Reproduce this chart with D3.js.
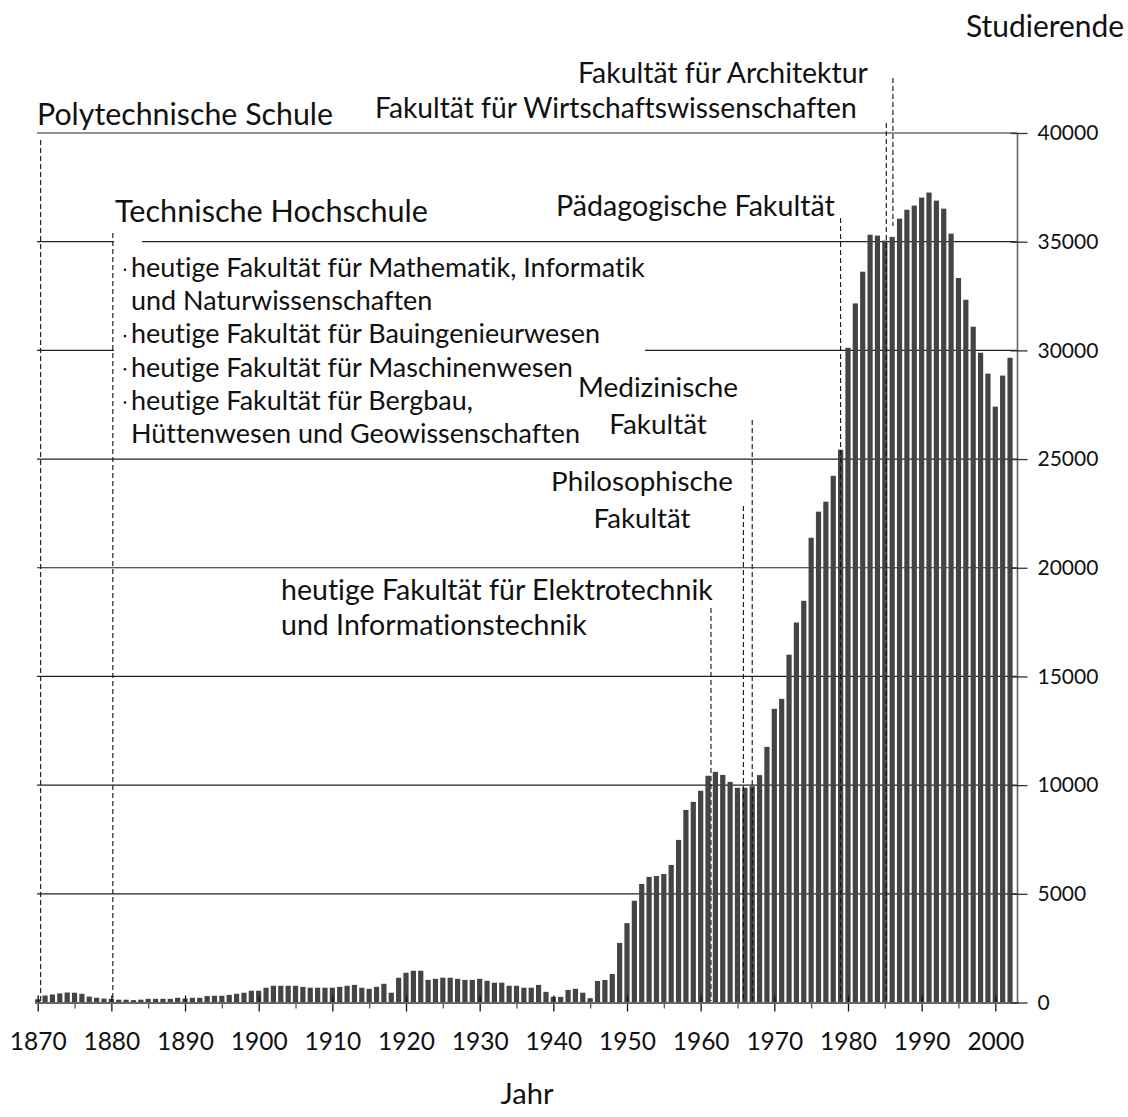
<!DOCTYPE html>
<html>
<head>
<meta charset="utf-8">
<script src="https://cdn.jsdelivr.net/npm/d3@7"></script>
<style>
	body { margin: 0; background: #fff; }
	svg text { font-family: Lato, "Open Sans", sans-serif; fill: #111; font-variant-ligatures: none; font-feature-settings: "liga" 0, "clig" 0; }
</style>
</head>
<body>
<div id="chart"></div>
<script>
// Studierende je Jahr, 1870 - 2002
const firstYear = 1870
const students = [
	150, 320, 370, 420, 460, 450, 400, 270, 220, 180,           // 1870
	170, 130, 130, 110, 130, 170, 170, 170, 170, 215,           // 1880
	180, 215, 215, 300, 310, 310, 350, 400, 450, 540,           // 1890
	540, 680, 770, 770, 770, 770, 720, 680, 680, 680,           // 1900
	680, 720, 770, 810, 680, 630, 720, 860, 450, 1140,          // 1910
	1370, 1460, 1460, 1040, 1090, 1140, 1140, 1090, 1040, 1040, // 1920
	1090, 1000, 910, 910, 770, 770, 680, 680, 810, 490,         // 1930
	260, 260, 580, 630, 450, 200, 990, 1035, 1310, 2740,        // 1940
	3650, 4680, 5450, 5780, 5820, 5910, 6330, 7480, 8860, 9230, // 1950
	9740, 10430, 10610, 10470, 10150, 9880, 9880, 9950, 10460, 11760,   // 1960
	13510, 13970, 16000, 17480, 18480, 21380, 22580, 23040, 24230, 25430, // 1970
	30120, 32160, 33620, 35320, 35280, 35050, 35220, 36060, 36470, 36660, // 1980
	37030, 37260, 36890, 36520, 35370, 33330, 32330, 31090, 29890, 28930, // 1990
	27410, 28840, 29660                                          // 2000
]
const years = d3.range(firstYear, firstYear + students.length)

const xTicksMajor = d3.range(1870, 2001, 10)
const xTicksMinor = d3.range(1875, 2001, 10)
const yTicks = d3.range(0, 40001, 5000)

// founding dates of the faculties, dashed markers
const events = [
	{ year: 1870.4, top: 140, name: "Polytechnische Schule" },
	{ year: 1880.2, top: 233, name: "Technische Hochschule" },
	{ year: 1961.4, top: 608, name: "Elektrotechnik" },
	{ year: 1965.8, top: 506, name: "Philosophische Fakultät" },
	{ year: 1967.0, top: 420, name: "Medizinische Fakultät" },
	{ year: 1979.0, top: 218, name: "Pädagogische Fakultät" },
	{ year: 1985.2, top: 123, name: "Wirtschaftswissenschaften" },
	{ year: 1986.1, top: 78, bottom: 226, name: "Architektur" }
]

const listLines = [
	{ text: "heutige Fakultät für Mathematik, Informatik", bullet: true },
	{ text: "und Naturwissenschaften", bullet: false },
	{ text: "heutige Fakultät für Bauingenieurwesen", bullet: true },
	{ text: "heutige Fakultät für Maschinenwesen", bullet: true },
	{ text: "heutige Fakultät für Bergbau,", bullet: true },
	{ text: "Hüttenwesen und Geowissenschaften", bullet: false }
]

const width = 1128, height = 1117

const svg = d3.select("#chart").append("svg")
	.attr("width", width)
	.attr("height", height)

const x = d3.scaleLinear().domain([1870, 2000]).range([37.7, 995.3])
const y = d3.scaleLinear().domain([0, 40000]).range([1002.5, 133])
const plotLeft = 37, axisX = 1017.5

// gridlines (behind everything)
svg.append("g").selectAll("line")
	.data(yTicks.filter(d => d > 0))
	.join("line")
	.attr("x1", plotLeft).attr("x2", axisX)
	.attr("y1", d => y(d)).attr("y2", d => y(d))
	.attr("stroke", "#222").attr("stroke-width", 1.2)

// white boxes behind the text block cut the gridlines
svg.append("rect").attr("x", 114).attr("y", 246).attr("width", 531).attr("height", 204).attr("fill", "#fff")
svg.append("rect").attr("x", 114).attr("y", y(35000) - 3).attr("width", 28).attr("height", 6).attr("fill", "#fff")

// bars
const barW = 5.2
svg.append("g").selectAll("rect")
	.data(years.map((yr, i) => ({ year: yr, value: students[i] })))
	.join("rect")
	.attr("x", d => x(d.year) - barW / 2)
	.attr("width", barW)
	.attr("y", d => y(d.value))
	.attr("height", d => y(0) - y(d.value))
	.attr("fill", "#444")

// bottom axis
const xAxisMinor = svg.append("g")
	.attr("transform", `translate(0,${y(0)})`)
	.call(d3.axisBottom(x).tickValues(xTicksMinor).tickSize(6).tickFormat(""))
xAxisMinor.select(".domain").remove()
xAxisMinor.selectAll(".tick line").attr("stroke", "#555").attr("stroke-width", 1.3)

const xAxis = svg.append("g")
	.attr("transform", `translate(0,${y(0)})`)
	.call(d3.axisBottom(x).tickValues(xTicksMajor).tickSize(9).tickPadding(21).tickFormat(d3.format("d")))
xAxis.select(".domain").remove()
xAxis.selectAll(".tick line").attr("y1", -7).attr("stroke", "#111").attr("stroke-width", 1.3)
xAxis.selectAll(".tick text").attr("font-size", 24.5).attr("fill", "#111")

svg.append("line")
	.attr("x1", 35).attr("x2", axisX + 1)
	.attr("y1", y(0) + 0.5).attr("y2", y(0) + 0.5)
	.attr("stroke", "#666").attr("stroke-width", 2)

// right axis
const yAxis = svg.append("g")
	.attr("transform", `translate(${axisX},0)`)
	.call(d3.axisRight(y).tickValues(yTicks).tickSize(10).tickPadding(10).tickFormat(d3.format("d")))
yAxis.select(".domain").attr("stroke", "#666").attr("stroke-width", 1.6)
	.attr("d", `M0,${y(40000)}V${y(0) + 1}`)
yAxis.selectAll(".tick line").attr("x1", -7).attr("stroke", "#333").attr("stroke-width", 1.3)
yAxis.selectAll(".tick text").attr("font-size", 21).attr("fill", "#111")

// dashed marker lines
svg.append("g").selectAll("line")
	.data(events)
	.join("line")
	.attr("x1", d => x(d.year)).attr("x2", d => x(d.year))
	.attr("y1", d => d.top).attr("y2", d => d.bottom || 1001)
	.attr("stroke", "#111").attr("stroke-width", 1.1)
	.attr("stroke-dasharray", "5,3")

// scale a label so that its first line has the measured width
function label(lines, px, py, w, anchor, lh) {
	const t = svg.append("text")
		.attr("text-anchor", anchor || "start")
		.attr("font-size", 24)
	lines.forEach((s, i) => {
		t.append("tspan").attr("x", px).attr("y", py + i * (lh || 0)).text(s)
	})
	const len = t.select("tspan").node().getComputedTextLength()
	t.attr("font-size", 24 * w / len)
	return t
}

label(["Studierende"], 1124, 37, 158, "end")
label(["Polytechnische Schule"], 37, 125, 296)
label(["Technische Hochschule"], 115, 222, 313)
label(["Fakultät für Architektur"], 578, 83, 290)
label(["Fakultät für Wirtschaftswissenschaften"], 375, 118, 482)
label(["Pädagogische Fakultät"], 556, 216, 279)
label(["Medizinische", "Fakultät"], 658, 397, 160, "middle", 37)
label(["Philosophische", "Fakultät"], 642, 491, 182, "middle", 37)
label(["heutige Fakultät für Elektrotechnik", "und Informationstechnik"], 281, 600, 432, "start", 35)
label(["Jahr"], 527, 1104, 53, "middle")

// list of the faculties of the Technische Hochschule
const list = label(listLines.map(d => d.text), 131, 277, 514, "start", 33.2)
const listSize = +list.attr("font-size")
svg.append("g").selectAll("circle")
	.data(listLines.map((d, i) => ({ ...d, i })).filter(d => d.bullet))
	.join("circle")
	.attr("cx", 125)
	.attr("cy", d => 277 + d.i * 33.2 - listSize * 0.27)
	.attr("r", 1.3)
	.attr("fill", "#111")
</script>
</body>
</html>
